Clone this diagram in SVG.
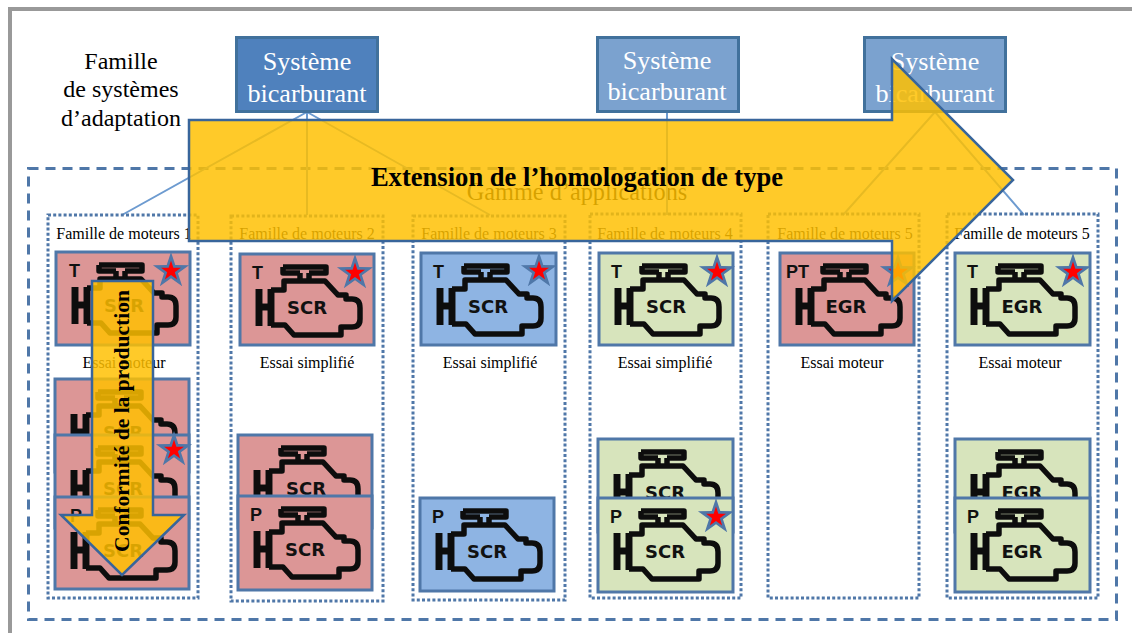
<svg xmlns="http://www.w3.org/2000/svg" width="1132" height="633" viewBox="0 0 1132 633">
<style>
text{font-family:"Liberation Serif","Times New Roman",serif;fill:#000}
.sys rect{stroke:#41719c;stroke-width:3}
.sys text{fill:#fff;font-size:26.2px;text-anchor:middle}
.dark{fill:#4f81bd}.light{fill:#7ba2cf}
.fam{fill:none;stroke:#4f77a8;stroke-width:3;stroke-dasharray:3 2.2}
.cap{font-size:16px;text-anchor:middle}
.card rect{stroke:#4f77a8;stroke-width:3}
.pink rect{fill:#dc9696}.blue rect{fill:#8eb4e3}.green rect{fill:#d7e4bc}
.tag{font-family:"Liberation Sans",sans-serif;font-weight:bold;font-size:18px;fill:#111}
.eng{font-family:"DejaVu Sans",sans-serif;font-weight:bold;font-size:18px;text-anchor:middle;fill:#111}
.ico{fill:none;stroke:#111;stroke-width:5.5;stroke-linejoin:round;filter:url(#soft)}
.arrow{fill:#ffc000;fill-opacity:.84;stroke:#38659b;stroke-width:2.5;stroke-linejoin:miter}
</style>
<defs>
<filter id="soft" x="-5%" y="-5%" width="110%" height="110%"><feGaussianBlur stdDeviation="0.5"/></filter>
<g id="engine" class="ico">
<path d="M31 36H44V27H85L98 41H106V45H112Q120 45 120 54V65Q120 73 112 73H101V81H54L45 71H31"/>
<path d="M19 35V72M31 35V72M19 53H31" stroke-width="7"/>
<path d="M43 13H86V19H69M43 13V19H60M60 19V27M69 19V27"/>
</g>
<g id="star"><polygon fill="#4f77a8" points="0,-19 4.29,-5.91 18.07,-5.87 6.94,2.26 11.17,15.37 0,7.3 -11.17,15.37 -6.94,2.26 -18.07,-5.87 -4.29,-5.91"/><polygon fill="#f00" transform="scale(.55)" points="0,-19 4.29,-5.91 18.07,-5.87 6.94,2.26 11.17,15.37 0,7.3 -11.17,15.37 -6.94,2.26 -18.07,-5.87 -4.29,-5.91"/></g>
</defs>
<rect width="1132" height="633" fill="#fff"/>
<path d="M10 633V9H1132" fill="none" stroke="#999" stroke-width="4"/>
<text x="121" y="69" font-size="24" text-anchor="middle">Famille</text>
<text x="121" y="97" font-size="24" text-anchor="middle">de systèmes</text>
<text x="121" y="126" font-size="24" text-anchor="middle">d’adaptation</text>
<rect id="gamme" x="28.5" y="168.5" width="1088" height="451" fill="none" stroke="#4f77a8" stroke-width="3" stroke-dasharray="10 7"/>
<text x="577" y="200" font-size="24.3" text-anchor="middle">Gamme d’applications</text>
<g id="connectors" fill="none" stroke="#6d9bd0" stroke-width="2">
<path d="M307 112L122 215M307 112V215M307 112L490 215M667 112V215M935 112L843 215M935 112L1024 215"/>
</g>
<g id="sys1" class="sys"><rect class="dark" x="236.500" y="37.500" width="141" height="74"/><text x="307" y="70">Système</text><text x="307" y="102">bicarburant</text></g>
<g id="sys2" class="sys"><rect class="light" x="597.500" y="37.500" width="141" height="74"/><text x="667" y="69">Système</text><text x="667" y="100">bicarburant</text></g>
<g id="sys3" class="sys"><rect class="light" x="864.500" y="37.500" width="141" height="74"/><text x="935" y="70">Système</text><text x="935" y="102">bicarburant</text></g>

<g id="fam1"><rect class="fam" x="48" y="215" width="150" height="383"/><text class="cap" x="124" y="239">Famille de moteurs 1</text><text class="cap" x="124" y="368">Essai moteur</text></g>
<g id="fam2"><rect class="fam" x="231" y="216" width="152" height="385"/><text class="cap" x="307" y="239">Famille de moteurs 2</text><text class="cap" x="307" y="368">Essai simplifié</text></g>
<g id="fam3"><rect class="fam" x="413" y="216" width="152" height="384"/><text class="cap" x="489" y="239">Famille de moteurs 3</text><text class="cap" x="490" y="368">Essai simplifié</text></g>
<g id="fam4"><rect class="fam" x="590" y="214" width="151" height="384"/><text class="cap" x="665" y="239">Famille de moteurs 4</text><text class="cap" x="665" y="368">Essai simplifié</text></g>
<g id="fam5"><rect class="fam" x="768" y="214" width="151" height="384"/><text class="cap" x="845" y="239">Famille de moteurs 5</text><text class="cap" x="842" y="368">Essai moteur</text></g>
<g id="fam6"><rect class="fam" x="947" y="214" width="151" height="384"/><text class="cap" x="1022" y="239">Famille de moteurs 5</text><text class="cap" x="1020" y="368">Essai moteur</text></g>

<g id="c1a" class="card pink" transform="translate(56,252)"><rect width="134" height="93"/><use href="#engine"/><text class="tag" x="13" y="25">T</text><text class="eng" x="68" y="60">SCR</text><use href="#star" x="115" y="19"/></g>
<g id="c1b" class="card pink" transform="translate(55,379)"><rect width="134" height="93"/><use href="#engine"/><text class="eng" x="68" y="60">SCR</text></g>
<g id="c1c" class="card pink" transform="translate(55,435)"><rect width="134" height="93"/><use href="#engine"/><text class="eng" x="68" y="60">SCR</text><use href="#star" x="119" y="15"/></g>
<g id="c1d" class="card pink" transform="translate(55,497)"><rect width="134" height="92"/><use href="#engine"/><text class="tag" x="15" y="25">P</text><text class="eng" x="68" y="60">SCR</text></g>

<g id="c2a" class="card pink" transform="translate(240,254)"><rect width="134" height="91"/><use href="#engine"/><text class="tag" x="12" y="25">T</text><text class="eng" x="67" y="60">SCR</text><use href="#star" x="115" y="19"/></g>
<g id="c2b" class="card pink" transform="translate(238,435)"><rect width="134" height="93"/><use href="#engine"/><text class="eng" x="68" y="60">SCR</text></g>
<g id="c2c" class="card pink" transform="translate(238,496)"><rect width="134" height="94"/><use href="#engine"/><text class="tag" x="12" y="25">P</text><text class="eng" x="67" y="60">SCR</text></g>

<g id="c3a" class="card blue" transform="translate(421,253)"><rect width="135" height="92"/><use href="#engine"/><text class="tag" x="12" y="25">T</text><text class="eng" x="67" y="60">SCR</text><use href="#star" x="118" y="18"/></g>
<g id="c3b" class="card blue" transform="translate(420,498)"><rect width="134" height="93"/><use href="#engine"/><text class="tag" x="12" y="25">P</text><text class="eng" x="67" y="60">SCR</text></g>

<g id="c4a" class="card green" transform="translate(599,253)"><rect width="134" height="92"/><use href="#engine"/><text class="tag" x="12" y="25">T</text><text class="eng" x="67" y="60">SCR</text><use href="#star" x="118" y="19"/></g>
<g id="c4b" class="card green" transform="translate(598,439)"><rect width="135" height="93"/><use href="#engine"/><text class="eng" x="67" y="60">SCR</text></g>
<g id="c4c" class="card green" transform="translate(598,498)"><rect width="135" height="94"/><use href="#engine"/><text class="tag" x="12" y="25">P</text><text class="eng" x="67" y="60">SCR</text><use href="#star" x="118" y="19"/></g>

<g id="c5a" class="card pink" transform="translate(780,253)"><rect width="134" height="92"/><use href="#engine"/><text class="tag" x="6" y="25">PT</text><text class="eng" x="66" y="60">EGR</text><use href="#star" x="118" y="19"/></g>
<g id="c6a" class="card green" transform="translate(955,253)"><rect width="135" height="92"/><use href="#engine"/><text class="tag" x="12" y="25">T</text><text class="eng" x="67" y="60">EGR</text><use href="#star" x="118" y="19"/></g>
<g id="c6b" class="card green" transform="translate(955,439)"><rect width="135" height="93"/><use href="#engine"/><text class="eng" x="67" y="60">EGR</text></g>
<g id="c6c" class="card green" transform="translate(955,498)"><rect width="135" height="94"/><use href="#engine"/><text class="tag" x="12" y="25">P</text><text class="eng" x="67" y="60">EGR</text></g>

<g id="arrow-extension"><polygon class="arrow" points="189,120 892,120 892,59 1013,180 892,301 892,241 189,241"/><text x="577" y="186" font-size="26.600" font-weight="bold" text-anchor="middle">Extension de l’homologation de type</text></g>
<g id="arrow-conformite"><polygon class="arrow" points="92,281 153,281 153,515 184,515 122,575 61,515 92,515"/><text transform="translate(129,421) rotate(-90)" font-size="21.500" font-weight="bold" text-anchor="middle">Conformité de la production</text></g>
</svg>
